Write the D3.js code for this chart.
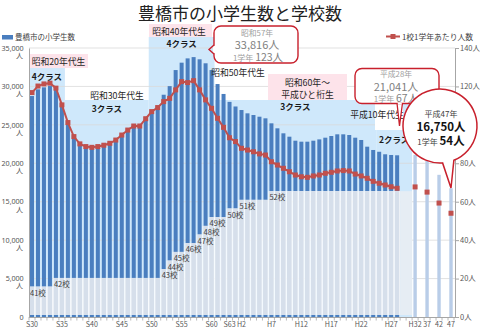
<!DOCTYPE html>
<html><head><meta charset="utf-8">
<script src="https://cdn.jsdelivr.net/npm/d3@7"></script>
<style>
html,body{margin:0;padding:0;background:#fff;}
svg{display:block;font-family:"Noto Sans CJK JP","Noto Sans",sans-serif;}
</style></head><body>
<svg id="c" width="480" height="332"></svg>
<script>
// ---------------- data ----------------
const years=["S30","S31","S32","S33","S34","S35","S36","S37","S38","S39","S40","S41","S42","S43","S44","S45","S46","S47","S48","S49","S50","S51","S52","S53","S54","S55","S56","S57","S58","S59","S60","S61","S62","S63","H1","H2","H3","H4","H5","H6","H7","H8","H9","H10","H11","H12","H13","H14","H15","H16","H17","H18","H19","H20","H21","H22","H23","H24","H25","H26","H27","H28"];
const students=[28750,29620,29880,30050,29750,27820,25500,23660,22710,22350,22250,22350,22530,22780,23210,23860,24520,25050,25050,26010,26940,27470,28920,30040,32130,33090,33650,33816,33530,33010,32130,30310,29020,27990,27390,26930,26500,26280,26060,25850,25200,24550,23900,23460,22940,22810,22810,22940,23110,23330,23550,23770,23770,23680,23330,23030,22160,21730,21500,21170,21080,21041];
const perGrade=[116.8,120.2,121.3,121.7,119.1,110.4,101.2,93.9,90.1,88.7,88.3,88.7,89.4,90.4,92.1,94.7,97.3,99.4,99.4,103.2,106.9,109,112.1,113.8,118.2,122.5,122,123,118.2,113,108.6,103.4,98.7,93.3,91.3,87.8,86.9,86,84.9,84.3,80.8,79.1,77.4,75.6,73.9,73,72.7,73.4,73.9,74.8,75.3,76,76.2,76,74.4,73.4,72.2,70.6,69.6,68.7,67.8,67];
const schools=[41,41,41,41,42,42,42,42,42,42,42,42,42,42,42,42,42,42,42,42,42,42,43,44,45,45,46,46,47,48,49,49,49,50,50,51,51,51,51,51,52,52,52,52,52,52,52,52,52,52,52,52,52,52,52,52,52,52,52,52,52,52];
const gapSlots=["_a","_b"];
const gapSchools=52;
const projYears=["H32","H37","H42","H47"];
const projStudents=[21100,20300,18500,16750];
const projPerGrade=[67.7,65,59.3,54];
const slots=years.concat(["_a","_b","H32","_c","H37","_d","H42","_e","H47"]);
const tickYears=["S30","S35","S40","S45","S50","S55","S60","S63","H2","H7","H12","H17","H22","H27","H32","H37","H42","H47"];
const tickText=["S30","S35","S40","S45","S50","S55","S60","S63","H2","H7","H12","H17","H22","H27","H32","37","42","47"];
const leftTicks=[0,5000,10000,15000,20000,25000,30000,35000];
const leftTickText=["0","5,000","10,000","15,000","20,000","25,000","30,000","35,000"];
const rightTicks=[0,20,40,60,80,120,140];

// ---------------- layout ----------------
const L=29,R=454,BASE=317,TOP=48;
const C={blue:"#4a7ebf",school:"#d6dfeb",band:"#cfe8fb",pink:"#fde3ea",red:"#c0504d",callout:"#c8202c",grid:"#d9d9d9",axis:"#a6a6a6",text:"#595959",proj:"#b9cde8",pale:"#e6edf4"};
const svg=d3.select("#c");
svg.append("rect").attr("width",480).attr("height",332).attr("fill","#fff");

const x=d3.scaleBand().domain(slots).range([L,R]);
const bw=x.bandwidth();
const cx=k=>x(k)+bw/2;
const yL=d3.scaleLinear().domain([0,35000]).range([BASE,TOP]);
const yR=d3.scaleLinear().domain([0,140]).range([BASE,TOP]);
const yS=d3.scaleLinear().domain([37.5,68.5]).range([BASE,TOP]);

// bands
const bandCfg=[
 {a:"S30",b:"S35",top:68,label:"4クラス",ly:79.5},
 {a:"S36",b:"S49",top:100,label:"3クラス",ly:111.5},
 {a:"S50",b:"S60",top:37,label:"4クラス",ly:47},
 {a:"S61",b:"H24",top:100,label:"3クラス",ly:109.5},
 {a:"H25",b:"_b",top:98,label:"2クラス",ly:142.5}
];
svg.append("g").selectAll("rect").data(bandCfg).join("rect")
 .attr("x",d=>x(d.a)).attr("width",d=>x(d.b)+bw-x(d.a))
 .attr("y",d=>d.top).attr("height",d=>BASE-d.top).attr("fill",C.band);

// grid
svg.append("g").selectAll("line").data(leftTicks.filter(v=>v>0)).join("line")
 .attr("x1",L).attr("x2",R+1).attr("y1",d=>yL(d)).attr("y2",d=>yL(d))
 .attr("stroke",C.grid).attr("stroke-width",0.8);

// label boxes (pink / white)
const boxes=[
 {x0:29,y0:54,x1:88,y1:68,fill:C.pink},
 {x0:149,y0:24,x1:212,y1:37,fill:C.pink},
 {x0:268,y0:74,x1:347,y1:100,fill:C.pink},
 {x0:88,y0:87,x1:147,y1:100,fill:"#fff"},
 {x0:375,y0:98,x1:403,y1:130,fill:"#fff"}
];
svg.append("g").selectAll("rect").data(boxes).join("rect")
 .attr("x",d=>d.x0).attr("y",d=>d.y0).attr("width",d=>d.x1-d.x0).attr("height",d=>d.y1-d.y0).attr("fill",d=>d.fill);

// student bars
svg.append("g").selectAll("rect").data(students).join("rect")
 .attr("x",(d,i)=>cx(years[i])-2).attr("width",4)
 .attr("y",d=>yL(d)).attr("height",d=>BASE-yL(d)).attr("fill",C.blue);

// school overlay bars
const sg=svg.append("g");
sg.selectAll("rect.w").data(schools).join("rect").attr("class","w")
 .attr("x",(d,i)=>x(years[i])).attr("width",bw)
 .attr("y",d=>yS(d)).attr("height",d=>BASE-2-yS(d)).attr("fill","#fff");
sg.selectAll("rect.s").data(schools).join("rect").attr("class","s")
 .attr("x",(d,i)=>x(years[i])+0.6).attr("width",bw-1.3)
 .attr("y",d=>yS(d)).attr("height",d=>BASE-2-yS(d)).attr("fill",C.school);
sg.append("rect").attr("x",x(gapSlots[0])).attr("width",x(gapSlots[1])+bw-x(gapSlots[0]))
 .attr("y",yS(gapSchools)).attr("height",BASE-2-yS(gapSchools)).attr("fill",C.pale);

// school labels
const steps=schools.map((s,i)=>({s,i})).filter(d=>d.i===0||schools[d.i-1]!==d.s);
svg.append("g").selectAll("text").data(steps).join("text")
 .attr("x",d=>cx(years[d.i])-2).attr("y",d=>yS(d.s)+9)
 .attr("font-size",7.5).attr("fill","#404040").text(d=>d.s+"校");

// projection bars
svg.append("g").selectAll("rect").data(projStudents).join("rect")
 .attr("x",(d,i)=>cx(projYears[i])-1.7).attr("width",3.4)
 .attr("y",d=>yL(d)).attr("height",d=>BASE-yL(d)).attr("fill",C.proj);

// red line
svg.append("path").datum(perGrade)
 .attr("d",d3.line().x((d,i)=>cx(years[i])).y(d=>yR(d)))
 .attr("fill","none").attr("stroke",C.red).attr("stroke-width",2);
svg.append("g").selectAll("rect").data(perGrade).join("rect")
 .attr("x",(d,i)=>cx(years[i])-2.5).attr("y",d=>yR(d)-2.5).attr("width",5).attr("height",5).attr("fill",C.red);
svg.append("g").selectAll("rect").data(projPerGrade).join("rect")
 .attr("x",(d,i)=>cx(projYears[i])-2.5).attr("y",d=>yR(d)-2.5).attr("width",5).attr("height",5).attr("fill",C.red);

// axes
const ax=svg.append("g").attr("transform",`translate(${L},0)`)
 .call(d3.axisLeft(yL).tickValues(leftTicks).tickSize(0).tickFormat(""))
 .attr("font-family",null).attr("font-size",null);
ax.select(".domain").attr("stroke",C.axis);
const lt=svg.append("g").attr("fill","#555").attr("text-anchor","end");
lt.selectAll("text.n").data(leftTicks).join("text").attr("class","n")
 .attr("x",L-5.5).attr("y",d=>yL(d)+2.7)
 .attr("font-family","'Noto Sans','DejaVu Sans',sans-serif").attr("font-size",7.2).attr("letter-spacing",-0.1)
 .text((d,i)=>leftTickText[i]);
lt.selectAll("text.u").data(leftTicks.filter(v=>v>0)).join("text").attr("class","u")
 .attr("x",L-6).attr("y",d=>yL(d)+9.8).attr("font-size",7).text("人");
const ar=svg.append("g").attr("transform",`translate(${R+1},0)`)
 .call(d3.axisRight(yR).tickValues(rightTicks).tickSize(4).tickSizeOuter(0).tickPadding(1).tickFormat(d=>d+"人"))
 .attr("font-family",null).attr("font-size",null);
ar.select(".domain").attr("stroke",C.axis);
ar.selectAll("line").attr("stroke",C.axis);
ar.selectAll("text").attr("font-size",7.5).attr("fill",C.text);
const ab=svg.append("g").attr("transform",`translate(0,${BASE})`)
 .call(d3.axisBottom(x).tickValues(tickYears).tickSize(0).tickSizeOuter(0).tickPadding(4.5)
   .tickFormat(d=>tickText[tickYears.indexOf(d)]))
 .attr("font-family",null).attr("font-size",null);
ab.select(".domain").attr("stroke",C.axis).attr("d",`M${L},0.5H${R+1}`);
ab.selectAll("text").attr("font-size",7.1).attr("fill",C.text);
ab.selectAll("line.b").data(d3.range(slots.length+1)).join("line").attr("class","b")
 .attr("x1",k=>L+k*bw).attr("x2",k=>L+k*bw).attr("y1",0).attr("y2",3.5)
 .attr("stroke",C.axis).attr("stroke-width",0.8);

// band labels
svg.append("g").selectAll("text").data(bandCfg).join("text")
 .attr("x",d=>(x(d.a)+x(d.b)+bw)/2).attr("y",d=>d.ly)
 .attr("text-anchor","middle").attr("font-size",8.5).attr("font-weight","bold").attr("fill","#1a1a1a")
 .text(d=>d.label);

// period labels
const periods=[
 {t:"昭和20年代生",x:58.5,y:65},
 {t:"昭和30年代生",x:117,y:98.5},
 {t:"昭和40年代生",x:179,y:35},
 {t:"昭和50年代生",x:238,y:75.5},
 {t:"昭和60年～",x:307.5,y:86},
 {t:"平成ひと桁生",x:307.5,y:97.5},
 {t:"平成10年代生",x:377,y:117.5}
];
svg.append("g").selectAll("text").data(periods).join("text")
 .attr("x",d=>d.x).attr("y",d=>d.y).attr("text-anchor","middle")
 .attr("font-size",8.8).attr("fill","#262626").text(d=>d.t);

// callout 1
const co=svg.append("g");
co.append("rect").attr("x",214).attr("y",26).attr("width",84).attr("height",37).attr("rx",7)
 .attr("fill","#fff").attr("stroke",C.callout).attr("stroke-width",1.4);
co.append("line").attr("x1",214).attr("x2",214).attr("y1",45.8).attr("y2",53.2).attr("stroke","#fff").attr("stroke-width",2);
co.append("path").attr("d","M214,45L209,49.5L214,54").attr("fill","none").attr("stroke",C.callout).attr("stroke-width",1.4);
co.append("text").attr("x",257).attr("y",35.5).attr("text-anchor","middle").attr("font-size",7.8).attr("fill","#a0a0a0").text("昭和57年");
co.append("text").attr("x",257).attr("y",48.5).attr("text-anchor","middle").attr("font-size",11).attr("fill","#7f7f7f").text("33,816人");
const t1=co.append("text").attr("x",258).attr("y",60.5).attr("text-anchor","middle");
t1.append("tspan").attr("font-size",8).attr("fill","#a0a0a0").text("1学年 ");
t1.append("tspan").attr("font-size",10.5).attr("fill","#7f7f7f").text("123人");

// callout 2
co.append("path").attr("d","M397,103L399.5,126L402.5,103").attr("fill","#fff").attr("stroke",C.callout).attr("stroke-width",1.3);
co.append("rect").attr("x",355).attr("y",68.5).attr("width",84).attr("height",35).attr("rx",7)
 .attr("fill","#fff").attr("stroke",C.callout).attr("stroke-width",1.4);
co.append("line").attr("x1",397.8).attr("x2",401.8).attr("y1",103.5).attr("y2",103.5).attr("stroke","#fff").attr("stroke-width",1.6);
co.append("text").attr("x",396).attr("y",77).attr("text-anchor","middle").attr("font-size",7.8).attr("fill","#a0a0a0").text("平成28年");
co.append("text").attr("x",396).attr("y",90.5).attr("text-anchor","middle").attr("font-size",11).attr("fill","#7f7f7f").text("21,041人");
const t2=co.append("text").attr("x",396).attr("y",102).attr("text-anchor","middle");
t2.append("tspan").attr("font-size",8).attr("fill","#a0a0a0").text("1学年 ");
t2.append("tspan").attr("font-size",10.5).attr("fill","#7f7f7f").text("67人");

// circle callout
const cc={x:440,y:126,r:37},tip=[451,188];
const pa=a=>[cc.x+cc.r*Math.cos(a*Math.PI/180),cc.y+cc.r*Math.sin(a*Math.PI/180)];
const p1=pa(68),p2=pa(86);
co.append("path").attr("d",`M${p1}L${tip}L${p2}A${cc.r},${cc.r} 0 1 1 ${p1}Z`)
 .attr("fill","#fff").attr("stroke",C.callout).attr("stroke-width",1.5);
co.append("text").attr("x",441).attr("y",116.5).attr("text-anchor","middle").attr("font-size",8).attr("fill","#404040").text("平成47年");
co.append("text").attr("x",441).attr("y",130.5).attr("text-anchor","middle").attr("font-size",11.5).attr("font-weight","bold").attr("fill","#111").text("16,750人");
const t3=co.append("text").attr("x",441).attr("y",145).attr("text-anchor","middle");
t3.append("tspan").attr("font-size",8).attr("fill","#404040").text("1学年 ");
t3.append("tspan").attr("font-size",11.5).attr("font-weight","bold").attr("fill","#111").text("54人");

// title
svg.append("text").attr("x",240).attr("y",19.5).attr("text-anchor","middle").attr("font-size",17).attr("fill","#222").text("豊橋市の小学生数と学校数");

// legends
svg.append("rect").attr("x",2).attr("y",35).attr("width",11).attr("height",4.5).attr("fill",C.blue);
svg.append("text").attr("x",15).attr("y",40).attr("font-size",7.5).attr("fill","#404040").text("豊橋市の小学生数");
svg.append("line").attr("x1",386).attr("x2",400).attr("y1",36.5).attr("y2",36.5).attr("stroke",C.red).attr("stroke-width",2);
svg.append("rect").attr("x",390.5).attr("y",34).attr("width",5).attr("height",5).attr("fill",C.red);
svg.append("text").attr("x",402).attr("y",39.5).attr("font-size",7.8).attr("fill","#404040").text("1校1学年あたり人数");
</script>
</body></html>
